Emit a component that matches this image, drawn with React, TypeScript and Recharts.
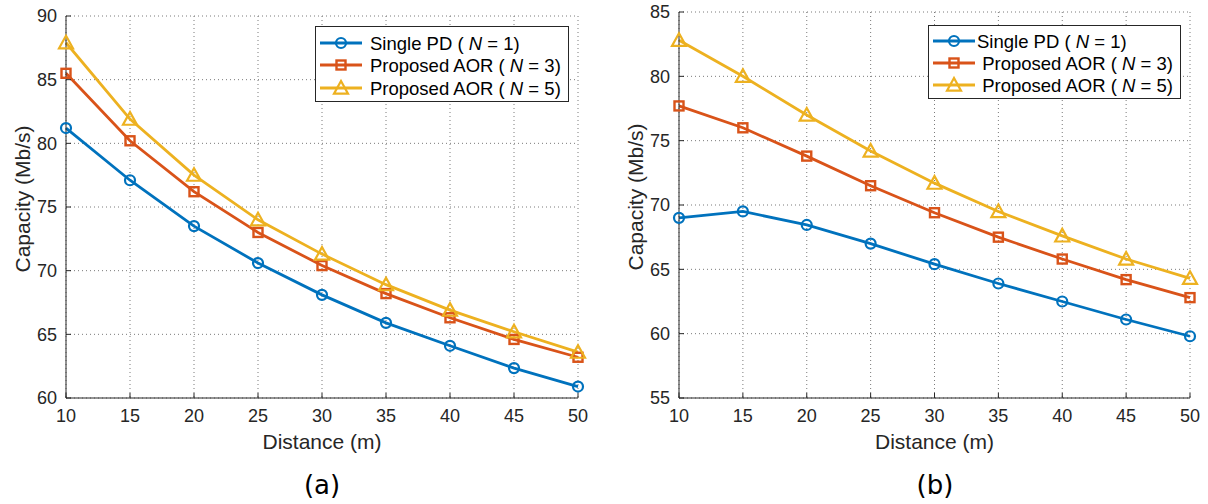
import { LineChart, Line, XAxis, YAxis, CartesianGrid } from "recharts";

const distance = [10, 15, 20, 25, 30, 35, 40, 45, 50];

// panel (a)
const singleA = [81.2, 77.1, 73.5, 70.6, 68.1, 65.9, 64.1, 62.35, 60.9];
const aor3A = [85.5, 80.2, 76.2, 73.0, 70.4, 68.2, 66.3, 64.6, 63.2];
const aor5A = [87.9, 81.9, 77.5, 74.0, 71.3, 68.9, 66.9, 65.2, 63.6];

// panel (b)
const singleB = [69.0, 69.5, 68.45, 67.0, 65.4, 63.9, 62.5, 61.1, 59.8];
const aor3B = [77.7, 76.0, 73.8, 71.5, 69.4, 67.5, 65.8, 64.2, 62.8];
const aor5B = [82.8, 80.0, 77.0, 74.2, 71.7, 69.5, 67.6, 65.8, 64.3];

const yTicksA = [60, 65, 70, 75, 80, 85, 90];
const yTicksB = [55, 60, 65, 70, 75, 80, 85];

const BLUE = "#0072BD";
const ORANGE = "#D95319";
const YELLOW = "#EDB120";
const INK = "#262626";
const FONT = "'Liberation Sans', Arial, sans-serif";

const toRows = (s: number[], p3: number[], p5: number[]) =>
  distance.map((d, i) => ({ d, single: s[i], aor3: p3[i], aor5: p5[i] }));

type MarkerKind = "circle" | "square" | "triangle";

function Marker({ kind, cx, cy, color }: { kind: MarkerKind; cx: number; cy: number; color: string }) {
  if (kind === "circle") {
    return <circle cx={cx} cy={cy} r={5} fill="none" stroke={color} strokeWidth={2.2} />;
  }
  if (kind === "square") {
    return <rect x={cx - 4.5} y={cy - 4.5} width={9} height={9} fill="none" stroke={color} strokeWidth={2.4} />;
  }
  const h = 7;
  return (
    <polygon
      points={`${cx},${cy - h} ${cx - h},${cy + h * 0.8} ${cx + h},${cy + h * 0.8}`}
      fill="none"
      stroke={color}
      strokeWidth={2.2}
    />
  );
}

const dotFor = (kind: MarkerKind, color: string) => (props: any) => {
  const { cx, cy, index } = props;
  if (cx == null || cy == null) return <g key={index} />;
  return <Marker key={index} kind={kind} cx={cx} cy={cy} color={color} />;
};

const series = [
  { key: "single", color: BLUE, marker: "circle" as MarkerKind, label: "Single PD", n: "1" },
  { key: "aor3", color: ORANGE, marker: "square" as MarkerKind, label: "Proposed AOR", n: "3" },
  { key: "aor5", color: YELLOW, marker: "triangle" as MarkerKind, label: "Proposed AOR", n: "5" },
];

const yLabel = (props: any) => {
  const vb = props.viewBox;
  const x = vb.x + 6;
  const y = vb.y + vb.height / 2 - 8;
  return (
    <text
      x={x}
      y={y}
      transform={`rotate(-90 ${x} ${y})`}
      textAnchor="middle"
      dominantBaseline="central"
      fill={INK}
      fontSize={21}
      fontFamily={FONT}
    >
      Capacity (Mb/s)
    </text>
  );
};

const xLabel = (props: any) => {
  const vb = props.viewBox;
  return (
    <text
      x={vb.x + vb.width / 2}
      y={vb.y + 43}
      textAnchor="middle"
      dominantBaseline="central"
      fill={INK}
      fontSize={21}
      fontFamily={FONT}
    >
      Distance (m)
    </text>
  );
};

function Legend({ left, top, width, height, rowY, textX, padRest }: {
  left: number; top: number; width: number; height: number; rowY: number[]; textX: number; padRest: boolean;
}) {
  return (
    <svg style={{ position: "absolute", left, top }} width={width} height={height}>
      <rect x={0.5} y={0.5} width={width - 1} height={height - 1} fill="#fff" stroke={INK} strokeWidth={1} />
      {series.map((s, i) => (
        <g key={s.key}>
          <line x1={5} x2={47} y1={rowY[i]} y2={rowY[i]} stroke={s.color} strokeWidth={2.8} />
          <Marker kind={s.marker} cx={26} cy={rowY[i]} color={s.color} />
          <text x={textX} y={rowY[i]} dominantBaseline="central" fontSize={18.5} fontFamily={FONT} fill="#000">
            {i > 0 && padRest ? "\u00a0" : ""}
            {s.label} ( <tspan fontStyle="italic">N</tspan> = {s.n})
          </text>
        </g>
      ))}
    </svg>
  );
}

function Panel({ rows, yTicks, domain, margin, width }: {
  rows: any[]; yTicks: number[]; domain: [number, number]; margin: any; width: number;
}) {
  return (
    <LineChart width={width} height={504} data={rows} margin={margin}>
      <CartesianGrid stroke="#7a7a7a" strokeDasharray="1 3" strokeWidth={1} />
      <XAxis
        dataKey="d"
        type="number"
        domain={[10, 50]}
        ticks={distance}
        height={30}
        stroke={INK}
        tickSize={-5}
        tickMargin={16}
        tick={{ fill: INK, fontSize: 18, fontFamily: FONT }}
        label={xLabel}
      />
      <XAxis
        xAxisId="top"
        dataKey="d"
        type="number"
        orientation="top"
        domain={[10, 50]}
        ticks={distance}
        height={0}
        stroke={INK}
        tickSize={-5}
        tick={false}
      />
      <YAxis
        type="number"
        domain={domain}
        ticks={yTicks}
        width={50}
        stroke={INK}
        tickSize={-5}
        tickMargin={14}
        tick={{ fill: INK, fontSize: 18, fontFamily: FONT }}
        label={yLabel}
      />
      <YAxis
        yAxisId="right"
        type="number"
        orientation="right"
        domain={domain}
        ticks={yTicks}
        width={0}
        stroke={INK}
        tickSize={-5}
        tick={false}
      />
      {series.map((s) => (
        <Line
          key={s.key}
          dataKey={s.key}
          stroke={s.color}
          strokeWidth={2.8}
          dot={dotFor(s.marker, s.color)}
          activeDot={false}
          isAnimationActive={false}
        />
      ))}
    </LineChart>
  );
}

const caption: React.CSSProperties = {
  position: "absolute",
  top: 470,
  fontFamily: "'DejaVu Sans', sans-serif",
  fontSize: 26,
  color: "#000",
  textAlign: "center",
  width: 100,
};

export default function App() {
  return (
    <div style={{ position: "absolute", left: 0, top: 0, width: 1208, height: 504, background: "#fff", overflow: "hidden" }}>
      <div style={{ position: "absolute", left: 0, top: 0 }}>
        <Panel
          rows={toRows(singleA, aor3A, aor5A)}
          yTicks={yTicksA}
          domain={[60, 90]}
          width={600}
          margin={{ top: 16, right: 22, bottom: 76, left: 16 }}
        />
      </div>
      <div style={{ position: "absolute", left: 600, top: 0 }}>
        <Panel
          rows={toRows(singleB, aor3B, aor5B)}
          yTicks={yTicksB}
          domain={[55, 85]}
          width={608}
          margin={{ top: 12, right: 18, bottom: 76, left: 29 }}
        />
      </div>
      <Legend left={315} top={26} width={254} height={76} rowY={[17, 39, 62]} textX={55} padRest={false} />
      <Legend left={928} top={25} width={253} height={74} rowY={[16, 38, 60]} textX={49} padRest={true} />
      <div style={{ ...caption, left: 272 }}>(a)</div>
      <div style={{ ...caption, left: 885 }}>(b)</div>
    </div>
  );
}
